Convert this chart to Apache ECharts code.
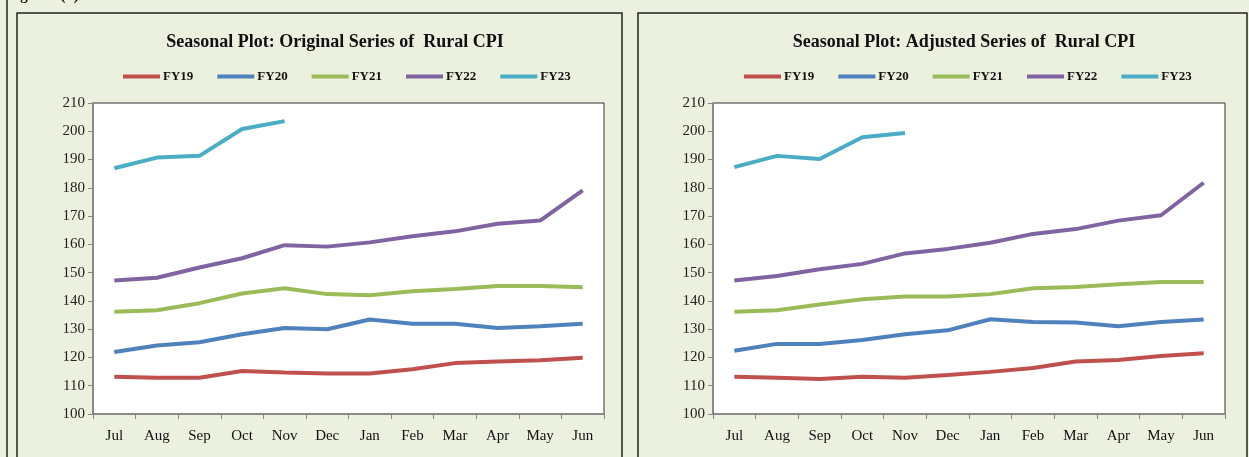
<!DOCTYPE html>
<html>
<head>
<meta charset="utf-8">
<script src="https://cdn.jsdelivr.net/npm/echarts@6/dist/echarts.min.js"></script>
<style>
  html, body { margin: 0; padding: 0; background: #EBF1DE; }
  #main { width: 1249px; height: 457px; }
</style>
</head>
<body>
<div id="main"></div>
<script>
// months of the fiscal year
var months = ['Jul', 'Aug', 'Sep', 'Oct', 'Nov', 'Dec', 'Jan', 'Feb', 'Mar', 'Apr', 'May', 'Jun'];
var years = ['FY19', 'FY20', 'FY21', 'FY22', 'FY23'];

// original series
var origFY19 = [113.2, 112.8, 112.8, 115.2, 114.7, 114.3, 114.3, 115.8, 118.0, 118.6, 119.0, 119.9];
var origFY20 = [121.9, 124.2, 125.4, 128.2, 130.4, 130.0, 133.4, 131.9, 131.9, 130.4, 131.0, 131.9];
var origFY21 = [136.2, 136.7, 139.2, 142.6, 144.5, 142.4, 142.0, 143.4, 144.2, 145.3, 145.3, 144.8];
var origFY22 = [147.2, 148.2, 151.8, 155.1, 159.7, 159.2, 160.7, 162.9, 164.6, 167.3, 168.4, 179.1];
var origFY23 = [186.9, 190.7, 191.3, 200.8, 203.6];

// seasonally adjusted series
var adjFY19 = [113.2, 112.8, 112.4, 113.2, 112.8, 113.8, 114.9, 116.3, 118.6, 119.1, 120.5, 121.5];
var adjFY20 = [122.4, 124.8, 124.8, 126.2, 128.2, 129.6, 133.5, 132.5, 132.4, 131.0, 132.5, 133.4];
var adjFY21 = [136.2, 136.7, 138.7, 140.6, 141.6, 141.6, 142.4, 144.5, 144.9, 145.9, 146.7, 146.7];
var adjFY22 = [147.2, 148.8, 151.2, 153.1, 156.8, 158.4, 160.6, 163.7, 165.4, 168.4, 170.3, 181.8];
var adjFY23 = [187.3, 191.3, 190.2, 197.9, 199.4];

var colors = ['#C0504D', '#4F81BD', '#9BBB59', '#8064A2', '#4BACC6'];
var serif = '"Liberation Serif", "DejaVu Serif", serif';

var myChart = echarts.init(document.getElementById('main'));

function makeXAxis(idx) {
	return {
		type : 'category',
		gridIndex : idx,
		data : months,
		boundaryGap : true,
		axisLine : { lineStyle : { color : '#868686', width : 1.5 } },
		axisTick : { show : true, length : 5, lineStyle : { color : '#868686' } },
		axisLabel : { color : '#111', fontFamily : serif, fontSize : 15, margin : 15 }
	};
}
function makeYAxis(idx) {
	return {
		type : 'value',
		gridIndex : idx,
		min : 100,
		max : 210,
		interval : 10,
		axisLine : { show : true, lineStyle : { color : '#868686', width : 1.5 } },
		axisTick : { show : true, length : 5, lineStyle : { color : '#868686' } },
		splitLine : { show : false },
		axisLabel : { color : '#222', fontFamily : serif, fontSize : 15, margin : 8 }
	};
}
function makeSeries(name, data, idx, color) {
	return {
		type : 'line',
		name : name,
		data : data,
		xAxisIndex : idx,
		yAxisIndex : idx,
		symbol : 'none',
		smooth : false,
		lineStyle : { color : color, width : 4 },
		itemStyle : { color : color }
	};
}
function makeLegend(left) {
	return {
		data : years,
		left : left,
		top : 65,
		icon : 'rect',
		itemWidth : 37,
		itemHeight : 4,
		itemGap : 24,
		textStyle : { fontFamily : serif, fontWeight : 'bold', fontSize : 13, color : '#111', padding : [0, 0, 0, -2] }
	};
}

var origAll = [origFY19, origFY20, origFY21, origFY22, origFY23];
var adjAll = [adjFY19, adjFY20, adjFY21, adjFY22, adjFY23];
var series = [];
for (var i = 0; i < years.length; i++) {
	series.push(makeSeries(years[i], origAll[i], 0, colors[i]));
}
for (var j = 0; j < years.length; j++) {
	series.push(makeSeries(years[j], adjAll[j], 1, colors[j]));
}

var option = {
	backgroundColor : '#EBF1DE',
	animation : false,
	color : colors,
	title : [ {
		text : 'Figure 4(b): Seasonal Plot of Rural CPI',
		left : 2,
		top : -16,
		textStyle : { fontFamily : serif, fontWeight : 'bold', fontSize : 15, color : '#111' }
	}, {
		text : 'Seasonal Plot: Original Series of  Rural CPI',
		left : 330,
		textAlign : 'center',
		top : 28,
		textStyle : { fontFamily : serif, fontWeight : 'bold', fontSize : 18, color : '#111' }
	}, {
		text : 'Seasonal Plot: Adjusted Series of  Rural CPI',
		left : 959,
		textAlign : 'center',
		top : 28,
		textStyle : { fontFamily : serif, fontWeight : 'bold', fontSize : 18, color : '#111' }
	} ],
	legend : [ makeLegend(118), makeLegend(739) ],
	grid : [ {
		left : 93, top : 103, width : 511, height : 311,
		show : true, backgroundColor : '#FFFFFF', borderColor : '#333', borderWidth : 1
	}, {
		left : 713, top : 103, width : 512, height : 311,
		show : true, backgroundColor : '#FFFFFF', borderColor : '#333', borderWidth : 1
	} ],
	xAxis : [ makeXAxis(0), makeXAxis(1) ],
	yAxis : [ makeYAxis(0), makeYAxis(1) ],
	graphic : [ {
		type : 'line', shape : { x1 : 7, y1 : 0, x2 : 7, y2 : 457 },
		style : { stroke : '#222', lineWidth : 1.5 }, silent : true
	}, {
		type : 'rect', shape : { x : 17, y : 13, width : 605, height : 460 },
		style : { fill : null, stroke : '#222', lineWidth : 1.5 }, silent : true
	}, {
		type : 'rect', shape : { x : 638, y : 13, width : 609, height : 460 },
		style : { fill : null, stroke : '#222', lineWidth : 1.5 }, silent : true
	} ],
	series : series
};
myChart.setOption(option);
</script>
</body>
</html>
